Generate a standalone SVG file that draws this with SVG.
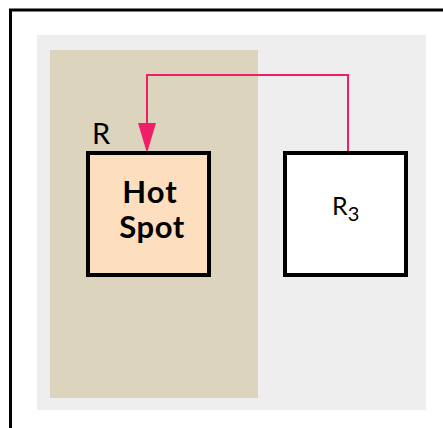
<svg xmlns="http://www.w3.org/2000/svg" width="443" height="428" viewBox="0 0 443 428">
  <defs>
    <style>
      .box { stroke: #000; stroke-width: 4; }
      .lbl { font-family: "Lato", "Open Sans", sans-serif; fill: #000; }
      .conn { fill: none; stroke: #ee1f66; stroke-width: 2; }
    </style>
  </defs>
  <rect width="443" height="428" fill="#ffffff"/>
  <rect x="10.5" y="10" width="500" height="500" fill="#ffffff" stroke="#000" stroke-width="3"/>
  <g id="panel">
    <rect x="37" y="35" width="389" height="375" fill="#eeeeee"/>
  </g>
  <g id="region-R">
    <rect x="50" y="50" width="208" height="348" fill="#dcd4bd"/>
    <text class="lbl" x="92" y="144" font-size="29">R</text>
  </g>
  <g id="connectors">
    <path class="conn" d="M348,151 L348,75 L147,75 L147,123"/>
    <path d="M138,123 L156,123 L147,153 Z" fill="#ee1f66"/>
  </g>
  <g id="hotspot">
    <rect class="box" x="88" y="153" width="121" height="122" fill="#fddfbf"/>
    <text class="lbl" x="150" y="203" font-size="31" font-weight="bold" text-anchor="middle" letter-spacing="1">Hot</text>
    <text class="lbl" x="152" y="238" font-size="31" font-weight="bold" text-anchor="middle" letter-spacing="0.5">Spot</text>
  </g>
  <g id="R3">
    <rect class="box" x="285" y="153" width="121" height="122" fill="#ffffff"/>
    <text class="lbl" x="332" y="215" font-size="25">R<tspan font-size="20" dy="6">3</tspan></text>
  </g>
</svg>
